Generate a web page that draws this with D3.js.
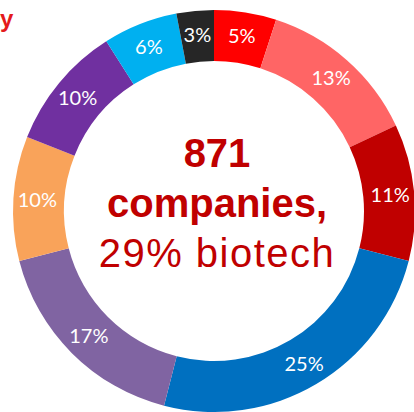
<!DOCTYPE html>
<html>
<head>
<meta charset="utf-8">
<script src="https://cdn.jsdelivr.net/npm/d3@7"></script>
<style>
  html, body { margin: 0; padding: 0; background: #fff; }
  svg { display: block; }
</style>
</head>
<body>
<svg id="drawing_region"></svg>
<script>
// share of companies per sector, clockwise from 12 o'clock
const sectors = ['s1', 's2', 's3', 's4', 's5', 's6', 's7', 's8', 's9'];
const shares = [5, 13, 11, 25, 17, 10, 10, 6, 3];
const sectorColors = ['#ff0000', '#ff6565', '#c00000', '#0070c0', '#8064a2', 'url(#orange_grad)', '#7030a0', '#00b0f0', '#262626'];

const centerLines = ['871', 'companies,', '29% biotech'];
const titleTail = 'y';

const config = {
    parent: '#drawing_region',
    width: 414,
    height: 412,
    cx: 214,
    cy: 211,
    inner: 150,
    outer: 201
};

const svg = d3.select(config.parent)
    .attr('width', config.width)
    .attr('height', config.height);

const defs = svg.append('defs');
const grad = defs.append('linearGradient')
    .attr('id', 'orange_grad')
    .attr('gradientUnits', 'userSpaceOnUse')
    .attr('x1', 0).attr('y1', 140)
    .attr('x2', 0).attr('y2', 290);
grad.append('stop').attr('offset', '0%').attr('stop-color', '#f9a35a');
grad.append('stop').attr('offset', '100%').attr('stop-color', '#e9832c');

const data = sectors.map((s, i) => ({ name: s, value: shares[i], color: sectorColors[i] }));

const pie = d3.pie()
    .value(d => d.value)
    .sort(null);

const arc = d3.arc()
    .innerRadius(config.inner)
    .outerRadius(config.outer);

const labelArc = d3.arc()
    .innerRadius(177)
    .outerRadius(177);

const chart = svg.append('g')
    .attr('transform', `translate(${config.cx}, ${config.cy})`);

const arcs = pie(data);

chart.selectAll('path')
    .data(arcs)
    .enter()
    .append('path')
    .attr('d', arc)
    .attr('fill', d => d.data.color);

chart.selectAll('text.pct')
    .data(arcs)
    .enter()
    .append('text')
    .attr('class', 'pct')
    .attr('transform', d => `translate(${labelArc.centroid(d)})`)
    .attr('text-anchor', 'middle')
    .attr('dy', '0.36em')
    .style('font-family', 'Lato, "Open Sans", sans-serif')
    .style('font-size', '20px')
    .style('fill', '#fff')
    .text(d => d.data.value + '%');

// centre text
const baselines = [167, 217, 267];
svg.selectAll('text.center')
    .data(centerLines)
    .enter()
    .append('text')
    .attr('class', 'center')
    .attr('x', 217)
    .attr('y', (d, i) => baselines[i])
    .attr('text-anchor', 'middle')
    .style('font-family', '"Liberation Sans", Arial, sans-serif')
    .style('font-size', '40px')
    .style('font-weight', (d, i) => i < 2 ? 'bold' : 'normal')
    .style('letter-spacing', (d, i) => i < 2 ? '0px' : '1.5px')
    .style('fill', '#c00000')
    .text(d => d);

// tail of the title, at the top left
svg.append('text')
    .attr('x', 0)
    .attr('y', 27)
    .style('font-family', '"Liberation Sans", Arial, sans-serif')
    .style('font-size', '24px')
    .style('font-weight', 'bold')
    .style('fill', '#e41a1c')
    .text(titleTail);
</script>
</body>
</html>
